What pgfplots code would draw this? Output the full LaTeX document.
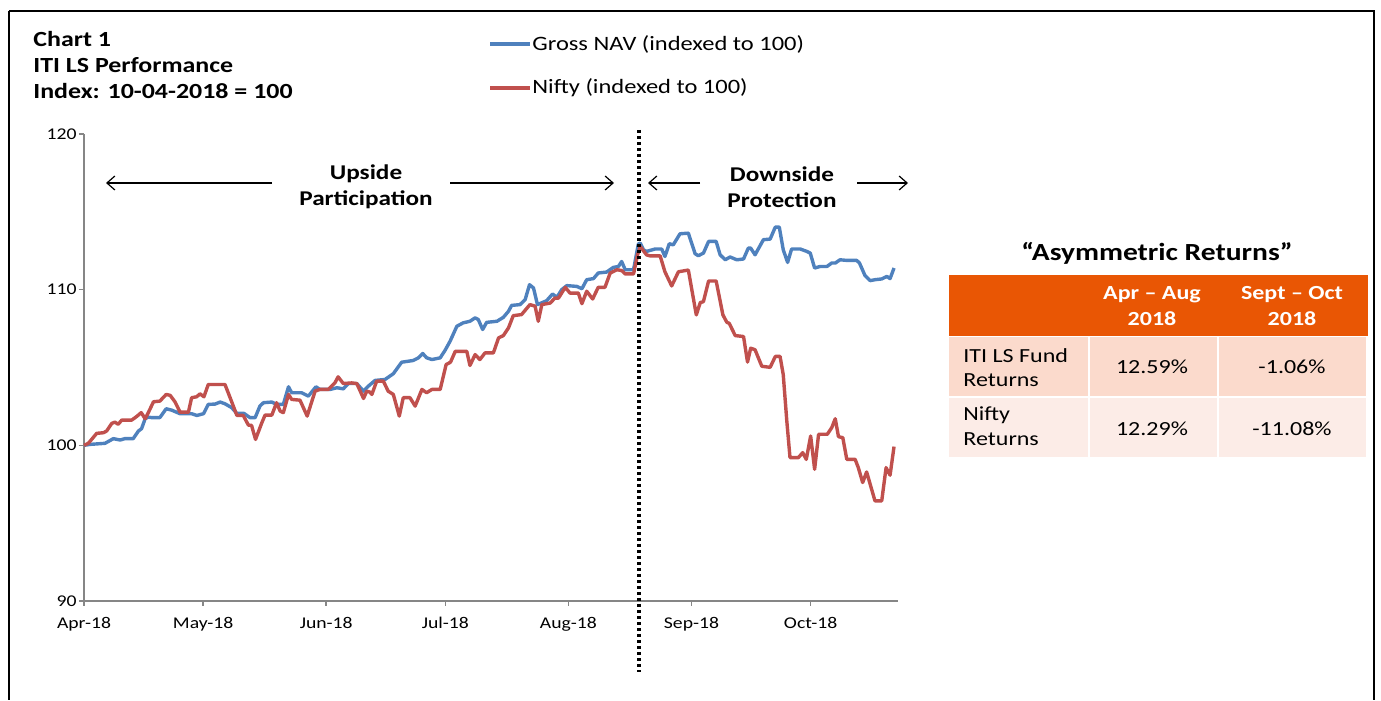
\documentclass[border=0pt]{standalone}
\usepackage{pgfplots}
\pgfplotsset{compat=1.18}
\usepackage{fontspec}
\setmainfont{Carlito}[FakeStretch=1.2]
\usetikzlibrary{arrows.meta}
\definecolor{navblue}{RGB}{79,129,189}
\definecolor{niftyred}{RGB}{192,80,77}
\definecolor{hdr}{RGB}{233,86,4}
\definecolor{rowa}{RGB}{251,218,204}
\definecolor{rowb}{RGB}{252,236,231}
\definecolor{axgray}{RGB}{134,134,134}
\begin{document}
\begin{tikzpicture}
\begin{scope}[x=0.5pt,y=-0.5pt,shift={(-84,-601)}]
\useasboundingbox (0,0) rectangle (1381,690);
\end{scope}
\begin{axis}[
 at={(0,0)}, anchor=south west,
 scale only axis, width=407pt, height=233.5pt,
 xmin=0, xmax=205, ymin=90, ymax=120,
 axis x line=bottom, axis y line=left,
 axis line style={-, axgray, line width=0.8pt},
 xtick={0,30,61,91,122,153,183},
 xticklabels={Apr-18,May-18,Jun-18,Jul-18,Aug-18,Sep-18,Oct-18},
 ytick={90,100,110,120},
 tick align=outside, major tick length=2.5pt,
 tick style={axgray, line width=0.8pt},
 tick label style={font=\fontsize{8.2}{9.8}\selectfont, black},
 xticklabel style={yshift=-2.2pt},
 yticklabel style={xshift=2.3pt},
 /pgf/number format/assume math mode=true,
 clip=false,
]
\addplot[navblue, line width=1.7pt, line join=round] coordinates {
(0,100.0)(1.5,100.06)(5.3,100.13)(7.4,100.43)(9.1,100.34)(10.3,100.43)(12.4,100.43)(13.7,100.92)(14.5,101.07)(15.4,101.71)(16.2,101.81)(17.1,101.78)(19.1,101.78)(20.7,102.35)(22.1,102.26)(24.2,102.03)(27.1,102.03)(28.4,101.92)(30.1,102.03)(31.3,102.63)(33.0,102.65)(34.3,102.78)(35.5,102.67)(37.2,102.42)(38.5,102.05)(40.3,102.05)(41.8,101.78)(43.1,101.78)(44.3,102.52)(45.2,102.74)(47.3,102.78)(48.5,102.63)(50.2,102.63)(51.5,103.76)(52.3,103.38)(54.8,103.38)(56.5,103.16)(58.4,103.76)(59.4,103.59)(62.0,103.59)(63.7,103.70)(65.3,103.63)(66.6,103.97)(68.7,103.97)(70.4,103.48)(71.6,103.80)(73.3,104.17)(75.8,104.23)(77.9,104.60)(80.0,105.34)(82.9,105.45)(84.2,105.62)(85.3,105.90)(86.3,105.62)(87.6,105.51)(89.7,105.62)(90.9,106.09)(92.2,106.69)(93.9,107.65)(95.5,107.87)(97.2,107.97)(98.5,108.19)(99.3,108.08)(100.4,107.44)(101.4,107.90)(104.0,107.97)(105.6,108.22)(106.9,108.61)(107.7,108.99)(109.8,109.04)(111.1,109.36)(112.2,110.32)(113.2,110.11)(114.2,109.04)(116.5,109.29)(118.0,109.72)(119.1,109.51)(120.3,110.00)(121.6,110.26)(124.1,110.21)(125.4,110.06)(126.6,110.64)(128.3,110.71)(129.5,111.07)(131.6,111.13)(133.3,111.43)(134.6,111.49)(135.4,111.81)(136.3,111.28)(138.4,111.28)(139.6,112.93)(140.1,112.99)(140.9,112.56)(141.7,112.46)(143.8,112.61)(145.5,112.61)(146.3,112.13)(147.4,112.95)(148.4,112.88)(150.1,113.59)(152.2,113.63)(153.9,112.31)(154.7,112.18)(156.0,112.35)(157.3,113.10)(159.2,113.10)(160.2,112.24)(161.5,111.92)(162.7,112.10)(164.4,111.92)(166.1,111.97)(167.3,112.67)(167.9,112.67)(169.0,112.24)(171.1,113.21)(172.8,113.25)(174.1,114.02)(175.1,114.02)(176.1,112.56)(177.2,111.75)(178.2,112.61)(180.4,112.61)(182.0,112.46)(182.9,112.35)(184.0,111.39)(185.4,111.49)(187.1,111.49)(188.3,111.71)(189.2,111.71)(190.4,111.92)(192.1,111.88)(194.6,111.88)(195.3,111.71)(196.7,110.90)(198.0,110.58)(199.2,110.64)(200.9,110.69)(202.2,110.85)(203.0,110.71)(204.0,111.39)
};
\addplot[niftyred, line width=1.7pt, line join=round] coordinates {
(0,100.0)(1.1,100.13)(3.2,100.77)(4.9,100.81)(5.7,100.92)(7.0,101.41)(7.8,101.49)(8.6,101.35)(9.5,101.62)(12.0,101.62)(13.2,101.84)(14.4,102.10)(15.4,101.71)(16.2,102.10)(17.5,102.80)(19.1,102.84)(20.7,103.27)(21.7,103.21)(22.9,102.80)(24.2,102.13)(26.3,102.13)(27.1,103.06)(28.4,103.12)(29.2,103.31)(30.2,103.12)(31.3,103.91)(35.5,103.91)(36.8,103.06)(38.5,101.92)(40.1,101.92)(41.4,101.30)(42.2,101.28)(43.2,100.38)(44.8,101.46)(45.6,101.94)(47.3,101.94)(48.5,102.74)(49.4,102.20)(50.2,102.10)(51.5,103.27)(52.3,102.95)(54.4,102.90)(56.2,101.88)(58.2,103.48)(59.4,103.59)(61.5,103.59)(63.2,104.02)(64.0,104.40)(65.3,103.97)(67.4,104.01)(68.7,103.97)(70.4,103.01)(71.2,103.48)(72.0,103.42)(72.5,103.27)(73.7,104.12)(75.4,104.12)(76.6,103.48)(77.9,103.27)(79.4,101.88)(80.4,103.06)(82.1,103.06)(83.4,102.52)(85.1,103.59)(86.3,103.38)(87.6,103.59)(89.7,103.59)(91.2,105.19)(92.3,105.34)(93.5,106.04)(96.4,106.04)(97.2,105.13)(98.5,105.83)(99.7,105.51)(101.0,105.94)(103.1,105.94)(104.4,106.90)(105.6,107.05)(106.9,107.54)(108.1,108.33)(110.2,108.40)(112.3,109.04)(113.6,108.94)(114.4,107.97)(115.3,109.04)(117.4,109.14)(118.6,109.46)(119.5,109.46)(121.2,110.15)(122.4,109.78)(124.5,109.78)(125.4,109.10)(126.6,109.90)(128.1,109.40)(129.5,110.15)(131.2,110.15)(132.5,111.06)(134.2,111.28)(135.4,111.23)(136.3,111.01)(138.4,111.01)(139.4,112.23)(140.1,112.76)(141.7,112.23)(142.6,112.17)(145.1,112.17)(146.3,111.15)(148.0,110.24)(149.7,111.15)(152.2,111.26)(154.2,108.38)(155.2,109.17)(156.0,109.23)(157.3,110.56)(159.2,110.56)(160.9,108.38)(161.9,107.90)(162.5,107.84)(164.0,107.05)(166.1,106.99)(167.1,105.35)(167.9,106.24)(169.0,106.14)(170.7,105.08)(172.8,105.01)(174.1,105.71)(175.3,105.71)(176.1,104.54)(177.0,101.55)(177.8,99.21)(179.9,99.21)(181.0,99.53)(181.9,99.10)(183.0,100.60)(184.0,98.46)(185.0,100.71)(187.2,100.71)(188.3,101.13)(189.2,101.71)(190.0,100.56)(191.1,100.49)(192.1,99.10)(194.2,99.10)(195.0,98.57)(196.1,97.61)(197.1,98.29)(199.2,96.43)(200.9,96.43)(202.0,98.57)(203.0,98.08)(204.0,99.92)
};
\end{axis}
\begin{scope}[x=0.5pt,y=-0.5pt,shift={(-84,-601)}]
% outer frame
\draw[black, line width=1pt] (9,11) -- (1374,11) -- (1374,700);
\draw[black, line width=1pt] (9,11) -- (9,700);
% titles
\begin{scope}[every node/.style={inner sep=0pt, anchor=base west, font=\fontsize{10.8}{13}\selectfont\bfseries}]
\node at (33,47) {Chart 1};
\node at (33,73) {ITI LS Performance};
\node at (33,99) {Index: 10-04-2018 = 100};
\end{scope}
% legend
\draw[navblue, line width=1.6pt] (490,44) -- (530,44);
\draw[niftyred, line width=1.6pt] (490,88) -- (530,88);
\node[inner sep=0pt, anchor=west, font=\fontsize{10.2}{12}\selectfont] at (532,44) {Gross NAV (indexed to 100)};
\node[inner sep=0pt, anchor=west, font=\fontsize{10.2}{12}\selectfont] at (532,88) {Nifty (indexed to 100)};
% divider
\draw[black, line width=1.6pt, dash pattern=on 1.5pt off 1.5pt] (639,130) -- (639,672);
% annotations
\begin{scope}[every node/.style={inner sep=0pt, font=\fontsize{10.5}{12.6}\selectfont\bfseries}]
\node at (366,174) {Upside};
\node at (366,200) {Participation};
\node at (782,174) {Downside};
\node at (782,200) {Protection};
\end{scope}
\begin{scope}[line width=0.6pt, -{Straight Barb[length=4pt,width=7pt]}]
\draw (272,183) -- (106,183);
\draw (450,183) -- (614,183);
\draw (700,183) -- (648,183);
\draw (857,183) -- (908,183);
\end{scope}
% table
\node[inner sep=0pt, font=\fontsize{12.3}{14}\selectfont\bfseries] at (1157,253) {“Asymmetric Returns”};
\fill[hdr] (949,275) rectangle (1368,336);
\fill[rowa] (949,337) rectangle (1087.5,396);
\fill[rowa] (1089.5,337) rectangle (1216.5,396);
\fill[rowa] (1218.5,337) rectangle (1366,396);
\fill[rowb] (949,398) rectangle (1087.5,457);
\fill[rowb] (1089.5,398) rectangle (1216.5,457);
\fill[rowb] (1218.5,398) rectangle (1366,457);
\begin{scope}[every node/.style={inner sep=0pt, font=\fontsize{10}{12}\selectfont\bfseries, text=white}]
\node at (1152,295) {Apr – Aug};
\node at (1152,319) {2018};
\node at (1292,295) {Sept – Oct};
\node at (1292,319) {2018};
\end{scope}
\begin{scope}[every node/.style={inner sep=0pt, font=\fontsize{10}{12}\selectfont}]
\node[anchor=west] at (963,356) {ITI LS Fund};
\node[anchor=west] at (963,380) {Returns};
\node at (1152,367) {12.59\%};
\node at (1292,367) {-1.06\%};
\node[anchor=west] at (963,415) {Nifty};
\node[anchor=west] at (963,439) {Returns};
\node at (1152,429) {12.29\%};
\node at (1292,429) {-11.08\%};
\end{scope}
\end{scope}
\end{tikzpicture}
\end{document}
